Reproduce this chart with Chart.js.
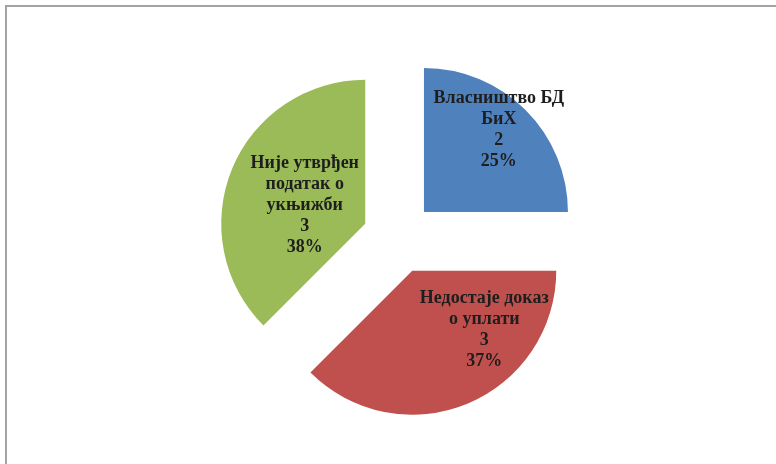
<!DOCTYPE html>
<html>
<head>
<meta charset="utf-8">
<script src="https://cdn.jsdelivr.net/npm/chart.js@4"></script>
<style>
    html, body { margin: 0; padding: 0; background: #fff; }
    #wrap { position: relative; width: 776px; height: 464px; overflow: hidden; }
    #frame {
        position: absolute; left: 5px; top: 5px; right: -4px; bottom: -4px;
        border-left: 2px solid #a3a3a3; border-top: 2px solid #a3a3a3;
    }
    #uknjizbaChart { position: absolute; left: 0; top: 0; }
</style>
</head>
<body>
<div id="wrap">
    <div id="frame"></div>
    <canvas id="uknjizbaChart" width="776" height="464"></canvas>
</div>
<script>
// Разлози због којих предмети нису укњижени
const razlozi = [
    ['Власништво БД', 'БиХ'],
    ['Недостаје доказ', 'о уплати'],
    ['Није утврђен', 'податак о', 'укњижби']
];
const brojPredmeta = [2, 3, 3];
const procenti = ['25%', '37%', '38%'];

const boje = ['#4f81bd', '#c0504d', '#9bbb59'];

// pomak isjecaka od centra i polozaj natpisa (u dijelovima poluprecnika)
const POMAK = 36;
const natpisPoz = [[0.52, -0.57], [0.5, 0.41], [-0.42, -0.13]];

const razmakni = {
    id: 'razmakni',
    afterDatasetUpdate(chart, args) {
        args.meta.data.forEach(arc => {
            const mid = (arc.startAngle + arc.endAngle) / 2;
            arc.x += Math.cos(mid) * POMAK;
            arc.y += Math.sin(mid) * POMAK;
        });
    }
};

const natpisi = {
    id: 'natpisi',
    afterDatasetsDraw(chart) {
        const c = chart.ctx;
        const meta = chart.getDatasetMeta(0);
        c.save();
        c.font = 'bold 18px "Liberation Serif", "Times New Roman", serif';
        c.fillStyle = '#1e1e1e';
        c.textAlign = 'center';
        c.textBaseline = 'middle';
        meta.data.forEach((arc, i) => {
            const lines = [...razlozi[i], String(brojPredmeta[i]), procenti[i]];
            const cx = arc.x + natpisPoz[i][0] * arc.outerRadius;
            const cy = arc.y + natpisPoz[i][1] * arc.outerRadius;
            const lh = 21;
            const y0 = cy - (lines.length - 1) * lh / 2;
            lines.forEach((t, k) => c.fillText(t, cx, y0 + k * lh));
        });
        c.restore();
    }
};

const ctx = document.getElementById('uknjizbaChart').getContext('2d');

new Chart(ctx, {
    type: 'pie',
    data: {
        labels: razlozi,
        datasets: [{
            data: brojPredmeta,
            backgroundColor: boje,
            borderWidth: 0
        }]
    },
    options: {
        responsive: false,
        animation: false,
        devicePixelRatio: 1,
        radius: 144,
        layout: { padding: { left: 21, right: 0, top: 11, bottom: 0 } },
        plugins: {
            legend: { display: false },
            tooltip: { enabled: false }
        }
    },
    plugins: [razmakni, natpisi]
});
</script>
</body>
</html>
